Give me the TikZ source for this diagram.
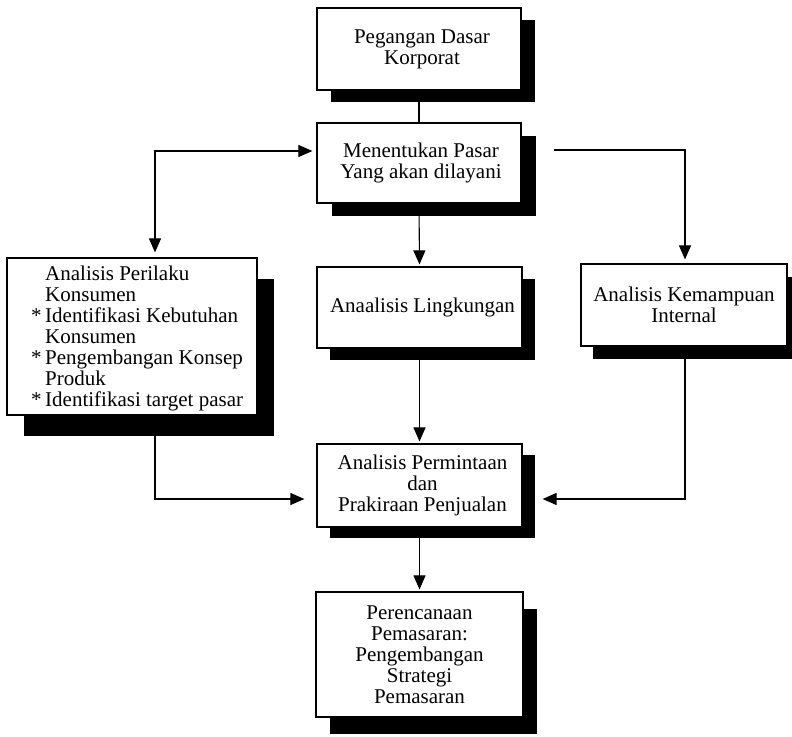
\documentclass[tikz,border=0pt]{standalone}
\usepackage{fontspec}
\setmainfont{Liberation Serif}
\usetikzlibrary{arrows.meta,shadows,calc}
\begin{document}
\begin{tikzpicture}[x=1pt,y=-1pt,
  txtfont/.style={font=\fontsize{21}{21}\selectfont},
  box/.style={draw, line width=1.2pt, fill=white, inner sep=0pt, align=center, txtfont},
  blackshadow/.style 2 args={drop shadow={shadow xshift=#1, shadow yshift=#2, fill=black, opacity=1}},
  link/.style={line width=1.1pt},
  arr/.style={link, -{Triangle[length=14pt,width=12pt]}},
  twoarr/.style={link, {Triangle[length=14pt,width=12pt]}-{Triangle[length=14pt,width=12pt]}},
  listtext/.style={txtfont, align=left, inner sep=0pt, anchor=west}
]
\useasboundingbox (0,0) rectangle (792,736);

% boxes with solid black drop shadows
\node[box, blackshadow={14pt}{-12pt}, minimum width=204pt, minimum height=82pt]
  (peg) at (419,49) {\hspace*{6pt}Pegangan Dasar\\\hspace*{6pt}Korporat};
\node[box, blackshadow={15pt}{-13pt}, minimum width=204pt, minimum height=80pt]
  (men) at (419,163) {\hspace*{4pt}Menentukan Pasar\\\hspace*{4pt}Yang akan dilayani};
\node[box, blackshadow={17pt}{-21pt}, minimum width=250pt, minimum height=157pt]
  (per) at (132,336.5) {};
\node[listtext] (pertxt) at (45,338)
  {Analisis Perilaku\\Konsumen\\
   \llap{*\,}Identifikasi Kebutuhan\\Konsumen\\
   \llap{*\,}Pengembangan Konsep\\Produk\\
   \llap{*\,}Identifikasi target pasar};
\node[box, blackshadow={13pt}{-12pt}, minimum width=205pt, minimum height=81pt]
  (ling) at (419.5,307.5) {\hspace*{6pt}Anaalisis Lingkungan};
\node[box, blackshadow={12pt}{-13pt}, minimum width=206pt, minimum height=82pt]
  (kem) at (684,305) {Analisis Kemampuan\\Internal};
\node[box, blackshadow={13pt}{-11pt}, minimum width=205pt, minimum height=83pt]
  (pmt) at (419.5,485.5) {\hspace*{6pt}Analisis Permintaan\\\hspace*{6pt}dan\\\hspace*{6pt}Prakiraan Penjualan};
\node[box, blackshadow={14pt}{-17pt}, minimum width=207pt, minimum height=125pt]
  (ren) at (419.5,654.5) {Perencanaan\\Pemasaran:\\Pengembangan\\Strategi\\Pemasaran};

% bend points of the connectors
\coordinate (lbend) at (155,151);
\coordinate (rbend) at (685,150);
\coordinate (lin) at (155,499);
\coordinate (rin) at (685,499);

% connectors
\draw[link] (peg.south) -- (men.north);
\draw[twoarr, shorten <=5pt, shorten >=4pt]
  (per.north -| lbend) -- (lbend) -- (men.west |- lbend);
\draw[arr, shorten >=4pt] ($(men.east |- rbend)+(32,0)$) -- (rbend) -- (kem.north -| rbend);
\draw[arr, shorten >=2pt] (men.south) -- (ling.north);
\draw[arr, shorten >=2pt] (ling.south) -- (pmt.north);
\draw[arr, shorten >=12pt] (per.south -| lin) -- (lin) -- (pmt.west |- lin);
\draw[arr, shorten >=20pt] (kem.south -| rin) -- (rin) -- (pmt.east |- rin);
\draw[arr, shorten >=2pt] (pmt.south) -- (ren.north);
\end{tikzpicture}
\end{document}
